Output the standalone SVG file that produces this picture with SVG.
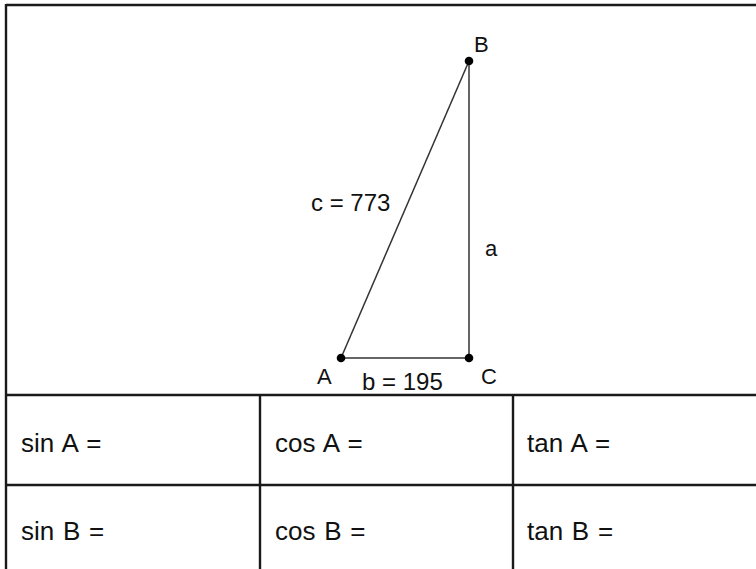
<svg xmlns="http://www.w3.org/2000/svg" width="756" height="569" viewBox="0 0 756 569">
<style>
.frame{stroke:#1a1a1a;stroke-width:2.4;fill:none}
.edge{stroke:#333;stroke-width:1.5;fill:none}
.pt{fill:#000}
.lbl{font-family:"Liberation Sans",Arial,sans-serif;font-size:22px;fill:#111}
.val{font-family:"Liberation Sans",Arial,sans-serif;font-size:24px;fill:#111}
.cell{font-family:"Liberation Sans",Arial,sans-serif;font-size:26px;word-spacing:1.5px;fill:#111}
</style>
<rect width="756" height="569" fill="#fff"/>
<g id="frame">
<line class="frame" x1="6" y1="5" x2="756" y2="5"/>
<line class="frame" x1="6" y1="4" x2="6" y2="569"/>
<line class="frame" x1="6" y1="395" x2="756" y2="395"/>
<line class="frame" x1="6" y1="485" x2="756" y2="485"/>
<line class="frame" x1="260" y1="395" x2="260" y2="569"/>
<line class="frame" x1="513" y1="395" x2="513" y2="569"/>
</g>
<g id="connectors">
<line class="edge" x1="341" y1="358" x2="469" y2="61"/>
<line class="edge" x1="469" y1="61" x2="469" y2="358"/>
<line class="edge" x1="341" y1="358" x2="469" y2="358"/>
</g>
<g id="A"><circle class="pt" cx="341" cy="358" r="4.3"/><text class="lbl" x="317" y="384">A</text></g>
<g id="B"><circle class="pt" cx="469" cy="61" r="4.3"/><text class="lbl" x="474" y="52">B</text></g>
<g id="C"><circle class="pt" cx="469" cy="358" r="4.3"/><text class="lbl" x="481" y="384">C</text></g>
<text class="val" x="311" y="211">c = 773</text>
<text class="lbl" x="485" y="256">a</text>
<text class="val" x="362" y="390">b = 195</text>
<g id="cells">
<text class="cell" x="21" y="452">sin A =</text>
<text class="cell" x="275" y="452">cos A =</text>
<text class="cell" x="527" y="452">tan A =</text>
<text class="cell" x="21" y="540">sin B =</text>
<text class="cell" x="275" y="540">cos B =</text>
<text class="cell" x="527" y="540">tan B =</text>
</g>
</svg>
